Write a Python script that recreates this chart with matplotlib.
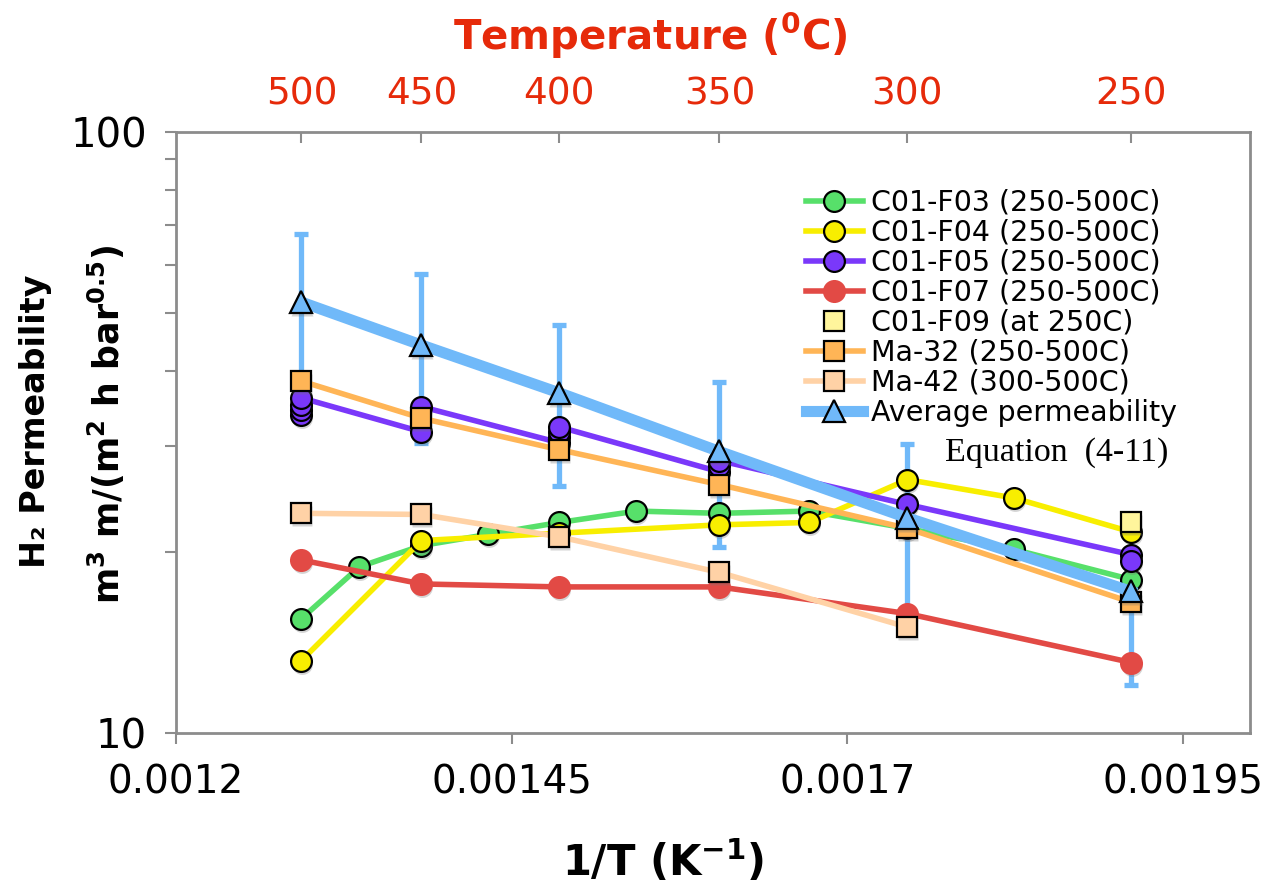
import numpy as np
import matplotlib
matplotlib.use("Agg")
import matplotlib.pyplot as plt
from matplotlib import transforms
from matplotlib.ticker import LogLocator, NullFormatter

# Данные (температура в °C, проницаемость)
f03_T = [500, 475, 450, 425, 400, 375, 350, 325, 300, 275, 250]
f03_P = [15.5, 18.9, 20.5, 21.4, 22.4, 23.4, 23.2, 23.4, 21.9, 20.2, 18.0]

f04_T = [500, 450, 400, 350, 325, 300, 275, 250]
f04_P = [13.2, 20.9, 21.5, 22.2, 22.4, 26.4, 24.6, 21.6]

f05_T = [500, 500, 500, 500, 450, 450, 400, 400, 400, 400, 350, 350, 350, 300, 250, 250]
f05_P = [33.8, 34.5, 35.1, 36.1, 31.7, 34.9, 30.4, 31.1, 31.7, 32.3, 27.2, 27.8, 28.4, 24.0, 19.8, 19.3]

f07_T = [500, 450, 400, 350, 300, 250]
f07_P = [19.4, 17.7, 17.5, 17.5, 15.8, 13.1]

f09_T = [250]
f09_P = [22.4]

ma32_T = [500, 450, 400, 350, 300, 250]
ma32_P = [38.5, 33.4, 29.6, 25.9, 21.9, 16.5]

ma42_T = [500, 450, 400, 350, 300]
ma42_P = [23.2, 23.1, 21.2, 18.5, 15.0]

avg_T = [500, 450, 400, 350, 300, 250]
avg_P = [52.1, 44.2, 36.8, 29.4, 22.8, 17.2]
avg_err = [15.6, 13.8, 11.0, 9.0, 7.4, 5.2]

top_T = [500, 450, 400, 350, 300, 250]
xtick_vals = [0.0012, 0.00145, 0.0017, 0.00195]
xtick_labels = ['0.0012', '0.00145', '0.0017', '0.00195']


def inv(T):
    return 1.0 / (np.array(T, dtype=float) + 273.15)


fig = plt.figure(figsize=(12.7, 8.94), dpi=100)
ax = fig.add_axes([0.1386, 0.1801, 0.8457, 0.6723])
shadow_tr = transforms.offset_copy(ax.transData, fig=fig, x=1, y=-3, units='dots')

series = [
    (f03_T, f03_P, '#57E06A', 'o', 'k', '-', 'C01-F03 (250-500C)'),
    (f04_T, f04_P, '#F8EE00', 'o', 'k', '-', 'C01-F04 (250-500C)'),
    (f05_T, f05_P, '#7A38FA', 'o', 'k', '-', 'C01-F05 (250-500C)'),
    (f07_T, f07_P, '#E24A45', 'o', '#E24A45', '-', 'C01-F07 (250-500C)'),
    (f09_T, f09_P, '#FFF59C', 's', 'k', 'none', 'C01-F09 (at 250C)'),
    (ma32_T, ma32_P, '#FFB556', 's', 'k', '-', 'Ma-32 (250-500C)'),
    (ma42_T, ma42_P, '#FFD2A6', 's', 'k', '-', 'Ma-42 (300-500C)'),
]

ax.errorbar(inv(avg_T), avg_P, yerr=avg_err, fmt='none', ecolor='#70B9F9',
            elinewidth=3.8, capsize=5, capthick=3.8, zorder=2)

z = 3
for T, P, col, mk, ec, ls, lab in series:
    ax.plot(inv(T), P, ls='none', marker=mk, ms=15, mfc='0.45', mec='none',
            alpha=0.3, transform=shadow_tr, zorder=z - 0.5)
    ax.plot(inv(T), P, ls=ls, lw=4, color=col, marker=mk, ms=15, mfc=col,
            mec=ec, mew=1.6, label=lab, zorder=z)
    z += 1

ax.plot(inv(avg_T), avg_P, ls='none', marker='^', ms=16, mfc='0.45', mec='none',
        alpha=0.3, transform=shadow_tr, zorder=z - 0.5)
ax.plot(inv(avg_T), avg_P, ls='-', lw=8, color='#70B9F9', marker='^', ms=16,
        mfc='#70B9F9', mec='k', mew=1.6, label='Average permeability', zorder=z)

ax.set_yscale('log')
ax.set_ylim(10, 100)
ax.set_xlim(0.0012, 0.002)
ax.set_yticks([10, 100], ['10', '100'])
ax.yaxis.set_minor_locator(LogLocator(base=10, subs=range(2, 10)))
ax.yaxis.set_minor_formatter(NullFormatter())
ax.set_xticks(xtick_vals, xtick_labels)

for sp in ax.spines.values():
    sp.set_color('#8c8c8c')
    sp.set_linewidth(2)

ax.tick_params(axis='both', which='both', direction='out', color='#8c8c8c',
               width=1.5, length=8)
ax.tick_params(axis='x', labelsize=28, pad=14)
ax.tick_params(axis='y', labelsize=29, pad=13)

top = ax.secondary_xaxis('top')
top.set_xticks(inv(top_T), [str(t) for t in top_T])
top.tick_params(direction='in', color='#8c8c8c', width=1.5, length=8,
                labelsize=27, labelcolor='#E62A0A', pad=14)
top.spines['top'].set_visible(False)

fig.text(0.512, 0.96, r'Temperature ($\mathbf{^0}$C)', ha='center', va='center',
         fontsize=29, fontweight='bold', color='#E62A0A')

fig.text(0.522, 0.036, r'1/T (K$\mathbf{^{-1}}$)', ha='center', va='center',
         fontsize=30, fontweight='bold')

fig.text(0.028, 0.529, 'H\u2082 Permeability', rotation=90, ha='center', va='center',
         fontsize=24, fontweight='bold')
fig.text(0.084, 0.525, r'm$\mathbf{^3}$ m/(m$\mathbf{^2}$ h bar$\mathbf{^{0.5}}$)', rotation=90,
         ha='center', va='center', fontsize=25, fontweight='bold')

fig.text(945 / 1270, 1 - 453 / 894, 'Equation  (4-11)', ha='left', va='center',
         fontsize=24.5, family='Liberation Serif')

ax.legend(loc='upper left', bbox_to_anchor=(806 / 1270, 1 - 189 / 894),
          bbox_transform=fig.transFigure, frameon=False, borderaxespad=0,
          borderpad=0, handlelength=2.0, handletextpad=0.3, labelspacing=0.07,
          fontsize=20.5, numpoints=1)

fig.savefig('out.png', dpi=100)
